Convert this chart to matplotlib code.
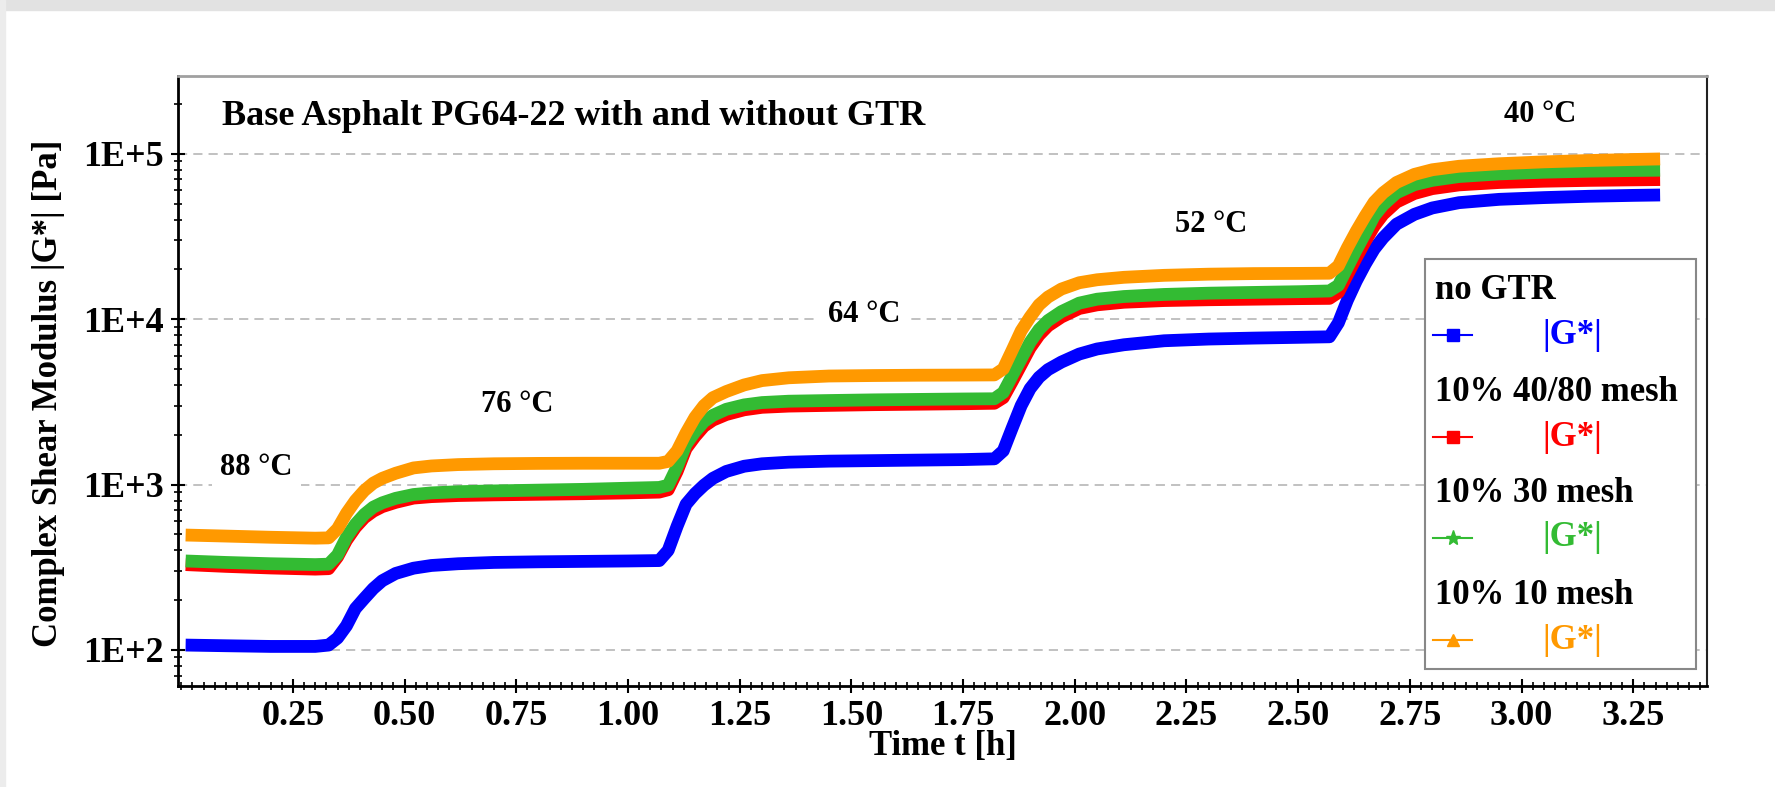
import matplotlib
import matplotlib.pyplot as plt
import numpy as np
from matplotlib.lines import Line2D
from matplotlib.patches import Rectangle
from matplotlib.ticker import FixedLocator, FuncFormatter, LogLocator, MultipleLocator, NullFormatter

matplotlib.use('agg')  # headless

# time axis shared by all series [h]
time_h = [0.01, 0.10, 0.20, 0.30, 0.33,
          0.35, 0.37, 0.39, 0.41, 0.43, 0.45, 0.48, 0.52, 0.56, 0.62, 0.70, 0.80, 0.90, 1.00, 1.07,
          1.09, 1.11, 1.13, 1.15, 1.17, 1.19, 1.22, 1.26, 1.30, 1.36, 1.45, 1.55, 1.65, 1.75, 1.82,
          1.84, 1.86, 1.88, 1.90, 1.92, 1.94, 1.97, 2.01, 2.05, 2.11, 2.20, 2.30, 2.40, 2.50, 2.57,
          2.59, 2.61, 2.63, 2.65, 2.67, 2.69, 2.72, 2.76, 2.80, 2.86, 2.95, 3.05, 3.15, 3.25, 3.31]

# |G*| [Pa]
g_no_gtr = [107, 106, 105, 105, 107,
            118, 140, 178, 205, 235, 262, 290, 312, 324, 332, 338, 341, 343, 345, 347,
            400, 560, 760, 880, 990, 1090, 1200, 1290, 1335, 1365, 1385, 1395, 1405, 1415, 1430,
            1600, 2200, 3000, 3800, 4450, 4950, 5500, 6150, 6600, 7000, 7400, 7580, 7680, 7760, 7820,
            9500, 13000, 17000, 21500, 26500, 31000, 37500, 43000, 47000, 50600, 53000, 54300, 55300, 56000, 56300]
g_40_80 = [328, 320, 313, 308, 310,
           365, 460, 550, 630, 690, 735, 780, 828, 845, 858, 866, 873, 880, 890, 900,
           930, 1200, 1650, 1950, 2250, 2450, 2650, 2830, 2930, 2980, 3010, 3040, 3060, 3080, 3100,
           3350, 4200, 5300, 6700, 8000, 9100, 10300, 11600, 12200, 12650, 12950, 13100, 13200, 13300, 13350,
           14500, 18500, 23500, 29500, 36500, 43000, 51000, 57500, 61500, 64800, 67000, 68200, 69000, 69500, 69800]
g_30 = [345, 338, 332, 328, 330,
        375, 480, 575, 660, 730, 775, 825, 870, 890, 905, 915, 925, 935, 950, 960,
        990, 1280, 1750, 2080, 2400, 2620, 2850, 3030, 3130, 3190, 3220, 3250, 3270, 3290, 3300,
        3600, 4550, 5750, 7250, 8650, 9800, 11100, 12500, 13200, 13700, 14100, 14350, 14500, 14650, 14800,
        16000, 20500, 26200, 33000, 42000, 49000, 58000, 65000, 69000, 72800, 75500, 77300, 78400, 79200, 79500]
g_10 = [495, 488, 480, 474, 476,
        540, 670, 800, 920, 1020, 1090, 1170, 1260, 1295, 1320, 1335, 1342, 1345, 1345, 1345,
        1380, 1600, 2050, 2550, 3000, 3350, 3650, 4000, 4250, 4420, 4530, 4560, 4580, 4590, 4600,
        5000, 6500, 8500, 10300, 12200, 13600, 15200, 16600, 17300, 17900, 18400, 18700, 18850, 18900, 18950,
        21000, 27000, 34000, 42000, 51000, 58000, 67000, 75000, 80000, 84000, 87000, 89300, 91000, 92300, 93000]

series_names = ['no GTR', '10% 40/80 mesh', '10% 30 mesh', '10% 10 mesh']
series_values = [g_no_gtr, g_40_80, g_30, g_10]
series_colors = ['#0000ff', '#ff0000', '#33bb33', '#ff9900']
series_markers = ['s', 's', '*', '^']

temp_labels = ['88 °C', '76 °C', '64 °C', '52 °C', '40 °C']
temp_x = [0.168, 0.753, 1.528, 2.305, 3.041]
temp_y = [1260, 3030, 10700, 37500, 172000]

plt.rcParams['font.family'] = ['Liberation Serif', 'DejaVu Serif']
plt.rcParams['font.weight'] = 'bold'

fig = plt.figure(figsize=(17.75, 7.87), dpi=100)
ax = fig.add_axes([0.1003, 0.1283, 0.8614, 0.7751])

# light screenshot border
fig.patches.append(Rectangle((0, 1 - 10 / 787), 1, 10 / 787, transform=fig.transFigure,
                             color='#e2e2e2', zorder=0))
fig.patches.append(Rectangle((0, 0), 5 / 1775, 1, transform=fig.transFigure,
                             color='#ececec', zorder=0))

for values, color in zip(series_values, series_colors):
    ax.plot(time_h, values, color=color, lw=9.2, solid_capstyle='butt', zorder=3)

ax.set_yscale('log')
ax.set_xlim(-0.007, 3.415)
ax.set_ylim(60.5, 2.95e5)

ax.xaxis.set_major_locator(FixedLocator([0.25 * i for i in range(1, 14)]))
ax.xaxis.set_major_formatter(FuncFormatter(lambda v, p: f'{v:.2f}'))
ax.xaxis.set_minor_locator(MultipleLocator(0.025))
ax.yaxis.set_major_locator(LogLocator(base=10))
ax.yaxis.set_major_formatter(FuncFormatter(lambda v, p: f'1E+{int(round(np.log10(v)))}'))
ax.yaxis.set_minor_locator(LogLocator(base=10, subs=np.arange(2, 10)))
ax.yaxis.set_minor_formatter(NullFormatter())

ax.tick_params(axis='both', which='major', direction='inout', length=10, width=1.5,
               labelsize=26, pad=5)
ax.tick_params(axis='both', which='minor', direction='inout', length=6, width=1.2)
ax.tick_params(axis='x', which='major', pad=5)
for lab in ax.get_xticklabels() + ax.get_yticklabels():
    lab.set_fontweight('bold')

ax.grid(True, axis='y', which='major', color='#b0b0b0', lw=1.1, ls=(0, (6, 4)), zorder=1)

for side in ['left', 'bottom']:
    ax.spines[side].set_linewidth(2)
    ax.spines[side].set_color('black')
ax.spines['right'].set_linewidth(1.5)
ax.spines['right'].set_color('#222222')
ax.spines['top'].set_linewidth(2)
ax.spines['top'].set_color('#a0a0a0')

ax.set_xlabel('Time t [h]', fontsize=25, fontweight='bold', labelpad=-2)
ax.set_ylabel('Complex Shear Modulus |G*| [Pa]', fontsize=25, fontweight='bold')
ax.yaxis.set_label_coords(-0.074, 0.48)

ax.text(0.0288, 0.933, 'Base Asphalt PG64-22 with and without GTR', transform=ax.transAxes,
        fontsize=26, fontweight='bold', ha='left', va='center', zorder=4)

for label, x, y in zip(temp_labels, temp_x, temp_y):
    ax.text(x, y, label, fontsize=22, fontweight='bold', ha='center', va='center', zorder=2,
            bbox=dict(fc='white', ec='none', pad=6))

# legend box drawn by hand (headers sit flush left, handles under them)
ax.add_patch(Rectangle((0.8156, 0.0279), 0.1772, 0.6721, transform=ax.transAxes,
                       fc='white', ec='#888888', lw=1.5, zorder=5))
header_y = [0.649, 0.482, 0.316, 0.149]
handle_y = [0.575, 0.408, 0.243, 0.0754]
for name, color, marker, hy, ly in zip(series_names, series_colors, series_markers, header_y, handle_y):
    ax.text(0.822, hy, name, transform=ax.transAxes, fontsize=25, fontweight='bold',
            ha='left', va='center', zorder=6)
    ax.add_line(Line2D([0.8208, 0.8463], [ly, ly], transform=ax.transAxes, color=color,
                       lw=1.5, zorder=6))
    ax.add_line(Line2D([0.8336], [ly], transform=ax.transAxes, color=color, marker=marker,
                       ms=11 if marker == '*' else 9, mec=color, mfc=color, zorder=7))
    ax.text(0.892, ly, '|G*|', transform=ax.transAxes, fontsize=25, fontweight='bold',
            color=color, ha='left', va='center', zorder=6)

fig.savefig('out.png', dpi=100)
